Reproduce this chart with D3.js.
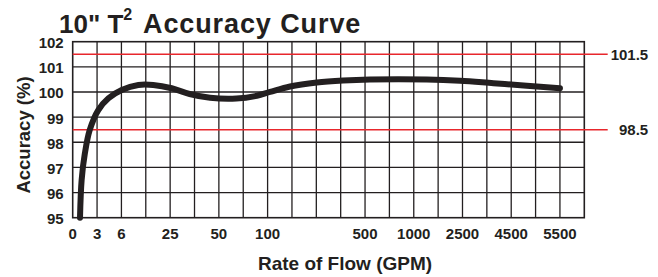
<!DOCTYPE html>
<meta charset="utf-8">
<style>
    html,
    body {
        margin: 0;
        background: #fff;
    }

    text {
        font-family: "Liberation Sans", Arial, sans-serif;
        font-weight: bold;
        fill: #231f20;
    }

    .grid line {
        stroke: #231f20;
        stroke-width: 1.3px;
    }

    .frame {
        fill: none;
        stroke: #231f20;
        stroke-width: 1.6px;
    }

    .limit {
        stroke: #e8262c;
        stroke-width: 1.5px;
    }

    .curve {
        fill: none;
        stroke: #231f20;
        stroke-width: 6px;
        stroke-linecap: round;
        stroke-linejoin: round;
    }
</style>

<body>
    <script src="https://d3js.org/d3.v7.min.js"></script>

    <script>
        // x axis is not a real scale: each label sits on its own grid column
        var tickLabels = ["0", "3", "6", "25", "50", "100", "500", "1000", "2500", "4500", "5500"];
        var tickFlow = [0, 3, 6, 25, 50, 100, 500, 1000, 2500, 4500, 5500];
        var tickColumn = [0, 1, 2, 4, 6, 8, 12, 14, 16, 18, 20];
        var columnCount = 21;

        var yTicks = [95, 96, 97, 98, 99, 100, 101, 102];
        var limits = [101.5, 98.5];

        // accuracy curve (GPM, %)
        var flow = [0.9, 1.1, 1.5, 2.1, 3.15, 4.4, 6.1, 12.6, 18.4, 25.8, 35, 45.5, 68, 89, 110, 192, 302, 410, 550, 1400, 2425, 3770, 4820, 5500];
        var accuracy = [95, 96.5, 97.56, 98.49, 99.28, 99.75, 100.08, 100.28, 100.28, 100.15, 99.92, 99.77, 99.74, 99.85, 100.0, 100.22, 100.38, 100.46, 100.5, 100.5, 100.45, 100.35, 100.25, 100.15];

        var width = 658,
            height = 277,
            margin = { top: 41.7, left: 72.7 },
            plotW = 511.6,
            plotH = 176;

        var svg = d3.select("body").append("svg")
            .attr("width", width)
            .attr("height", height);

        var col = d3.scaleLinear().domain([0, columnCount]).range([0, plotW]);

        // piecewise: flow value -> column position
        var x = d3.scaleLinear()
            .domain(tickFlow)
            .range(tickColumn.map(function (c) { return col(c); }));

        var y = d3.scaleLinear().domain([95, 102]).range([plotH, 0]);

        var g = svg.append("g")
            .attr("transform", "translate(" + margin.left + "," + margin.top + ")");

        var grid = g.append("g").attr("class", "grid");

        grid.selectAll(".v")
            .data(d3.range(1, columnCount))
            .enter().append("line")
            .attr("class", "v")
            .attr("x1", col).attr("x2", col)
            .attr("y1", 0).attr("y2", plotH);

        grid.selectAll(".h")
            .data(yTicks.slice(1, -1))
            .enter().append("line")
            .attr("class", "h")
            .attr("x1", 0).attr("x2", plotW)
            .attr("y1", y).attr("y2", y);

        g.append("rect")
            .attr("class", "frame")
            .attr("width", plotW)
            .attr("height", plotH);

        // red tolerance lines run out past the frame to their labels
        g.selectAll(".limit")
            .data(limits)
            .enter().append("line")
            .attr("class", "limit")
            .attr("x1", 0).attr("x2", 535)
            .attr("y1", y).attr("y2", y);

        g.selectAll(".limitLabel")
            .data(limits)
            .enter().append("text")
            .attr("class", "limitLabel")
            .attr("x", 575.5)
            .attr("y", y)
            .attr("dy", "0.36em")
            .attr("text-anchor", "end")
            .style("font-size", "15px")
            .text(function (d) { return d; });

        var line = d3.line()
            .x(function (d) { return x(d[0]); })
            .y(function (d) { return y(d[1]); })
            .curve(d3.curveCatmullRom.alpha(0.5));

        g.append("path")
            .datum(d3.zip(flow, accuracy))
            .attr("class", "curve")
            .attr("d", line);

        // y tick labels
        g.selectAll(".ytick")
            .data(yTicks)
            .enter().append("text")
            .attr("class", "ytick")
            .attr("x", -9)
            .attr("y", function (d) { return y(d) + 1; })
            .attr("dy", "0.36em")
            .attr("text-anchor", "end")
            .style("font-size", "15px")
            .text(function (d) { return d; });

        // x tick labels
        g.selectAll(".xtick")
            .data(tickLabels)
            .enter().append("text")
            .attr("class", "xtick")
            .attr("x", function (d, i) { return x(tickFlow[i]); })
            .attr("y", plotH + 21.5)
            .attr("text-anchor", "middle")
            .style("font-size", "15px")
            .text(function (d) { return d; });

        svg.append("text")
            .attr("x", 345)
            .attr("y", 269.5)
            .attr("text-anchor", "middle")
            .style("font-size", "19px")
            .text("Rate of Flow (GPM)");

        svg.append("text")
            .attr("transform", "translate(29.5,135) rotate(-90)")
            .attr("text-anchor", "middle")
            .style("font-size", "18.5px")
            .text("Accuracy (%)");

        var title = svg.append("text")
            .attr("y", 33.3)
            .style("font-size", "26px");
        title.append("tspan").attr("x", 59).text("10\" T");
        title.append("tspan").attr("dy", -13).style("font-size", "16px").text("2");
        title.append("tspan").attr("x", 143).attr("dy", 13).style("font-size", "27px").style("letter-spacing", "0.9px").text("Accuracy Curve");
    </script>
</body>

</html>
